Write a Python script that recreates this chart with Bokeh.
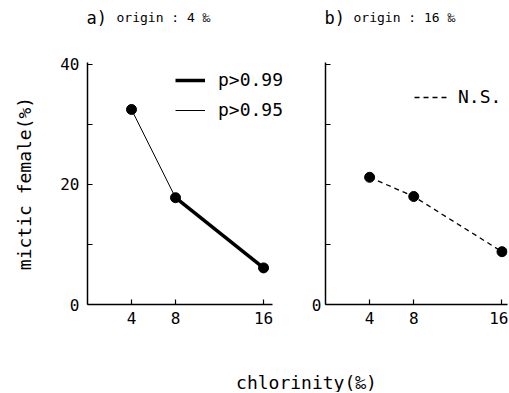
from bokeh.plotting import figure
from bokeh.models import FixedTicker, Label, Legend, LegendItem, Range1d
from bokeh.layouts import row, column
from bokeh.embed import file_html
from bokeh.resources import INLINE

# ---- data ----
chlorinity = [4, 8, 16]
mictic_a = [32.5, 17.8, 6.1]      # a) origin 4 permil
mictic_b = [21.2, 18.0, 8.8]      # b) origin 16 permil
x_ticks = [4, 8, 16]
y_ticks = [0, 10, 20, 30, 40]
y_tick_text_a = {0: "0", 10: "", 20: "20", 30: "", 40: "40"}
y_tick_text_b = {0: "0", 10: "", 20: "", 30: "", 40: ""}
title_a = ("a)", "origin : 4 ‰")
title_b = ("b)", "origin : 16 ‰")
legend_a = ["p>0.99", "p>0.95"]
legend_b = ["N.S."]
x_label = "chlorinity(‰)"
y_label = "mictic female(%)"

FONT = "DejaVu Sans Mono"
TOTAL_W = 508
W1 = 308
W2 = TOTAL_W - W1
TITLE_H = 40
PANEL_H = 320
XLAB_H = 32


def strip(width, height):
    f = figure(width=width, height=height, output_backend="svg", toolbar_location=None,
               x_range=Range1d(0, width), y_range=Range1d(0, height),
               x_axis_type=None, y_axis_type=None, min_border=0)
    f.outline_line_color = None
    f.xgrid.visible = False
    f.ygrid.visible = False
    f.border_fill_color = "white"
    f.background_fill_color = "white"
    return f


def base(width, xr, xbounds, border_left, border_right):
    p = figure(width=width, height=PANEL_H, output_backend="svg", toolbar_location=None,
               x_range=Range1d(*xr), y_range=Range1d(0, 40.33),
               min_border_left=border_left, min_border_right=border_right,
               min_border_top=22, min_border_bottom=56)
    p.outline_line_color = None
    p.xgrid.visible = False
    p.ygrid.visible = False
    p.background_fill_color = "white"
    p.border_fill_color = "white"
    for ax in (p.xaxis[0], p.yaxis[0]):
        ax.axis_line_width = 1.5
        ax.axis_line_color = "black"
        ax.major_tick_in = 5
        ax.major_tick_out = 0
        ax.major_tick_line_width = 1.2
        ax.major_tick_line_color = "black"
        ax.minor_tick_line_color = None
        ax.major_label_text_font = FONT
        ax.major_label_text_font_size = "16px"
        ax.major_label_text_color = "black"
    p.xaxis.ticker = FixedTicker(ticks=x_ticks)
    p.xaxis.bounds = xbounds
    p.xaxis.major_label_standoff = 7
    p.yaxis.ticker = FixedTicker(ticks=y_ticks)
    p.yaxis.major_label_standoff = 8
    return p


# ---- titles strip ----
tfig = strip(TOTAL_W, TITLE_H)
for txt, x, size in [(title_a[0], 86, "17px"), (title_a[1], 116, "13px"),
                     (title_b[0], 324, "17px"), (title_b[1], 353, "13px")]:
    tfig.add_layout(Label(x=x, y=TITLE_H - 17, text=txt, text_font=FONT, text_font_size=size,
                          text_baseline="middle", text_align="left", text_color="black"))

# ---- panel a ----
p1 = base(W1, (0, 18.45), (0, 16.8), 87, 18)
p1.yaxis.major_label_overrides = y_tick_text_a
p1.yaxis.axis_label = y_label
p1.yaxis.axis_label_text_font = FONT
p1.yaxis.axis_label_text_font_size = "18px"
p1.yaxis.axis_label_text_font_style = "normal"
p1.yaxis.axis_label_text_color = "black"
p1.yaxis.axis_label_standoff = 22

thin = p1.line(chlorinity[:2], mictic_a[:2], line_width=1, line_color="black")
thick = p1.line(chlorinity[1:], mictic_a[1:], line_width=3.5, line_color="black")
p1.scatter(chlorinity, mictic_a, size=10, color="black")
leg1 = Legend(items=[LegendItem(label=legend_a[0], renderers=[thick]),
                     LegendItem(label=legend_a[1], renderers=[thin])],
              location=(88, 184), padding=0, margin=0, spacing=9,
              glyph_width=30, glyph_height=20, label_height=20, label_standoff=13,
              label_text_font=FONT, label_text_font_size="18px", label_text_color="black",
              border_line_alpha=0, background_fill_alpha=0)
p1.add_layout(leg1)

# ---- panel b ----
p2 = base(W2, (0, 16.5), (0, 16.5), 16, 1)
p2.yaxis.major_label_overrides = y_tick_text_b
p2.yaxis.major_label_standoff = 4
dashed = p2.line(chlorinity, mictic_b, line_width=1.3, line_color="black", line_dash="5 4")
p2.scatter(chlorinity, mictic_b, size=10, color="black")
leg2 = Legend(items=[LegendItem(label=legend_b[0], renderers=[dashed])],
              location=(89, 197), padding=0, margin=0,
              glyph_width=34, glyph_height=20, label_height=20, label_standoff=10,
              label_text_font=FONT, label_text_font_size="18px", label_text_color="black",
              border_line_alpha=0, background_fill_alpha=0)
p2.add_layout(leg2)

# ---- shared x label ----
xfig = strip(TOTAL_W, XLAB_H)
xfig.add_layout(Label(x=306, y=10, text=x_label, text_font=FONT, text_font_size="18px",
                      text_align="center", text_baseline="middle", text_color="black"))

layout = column(tfig, row(p1, p2), xfig)
open("out.html", "w").write(file_html(layout, INLINE))
